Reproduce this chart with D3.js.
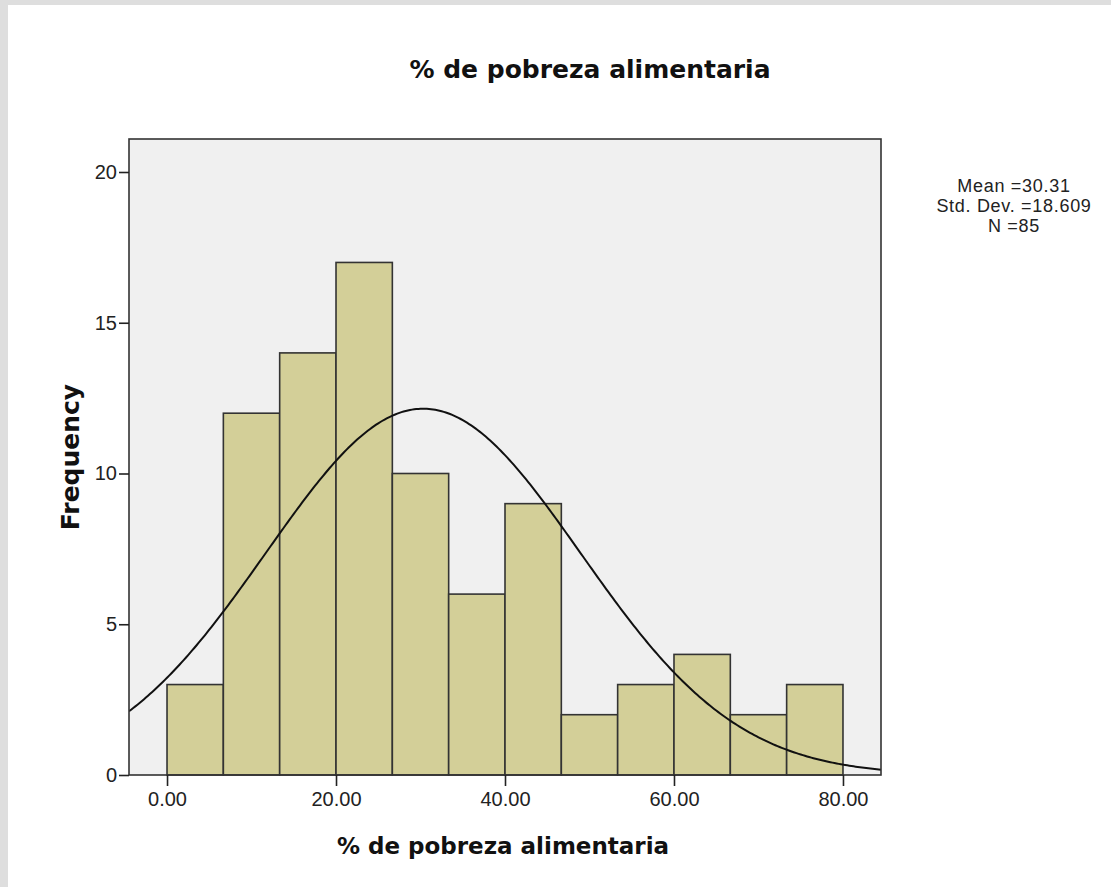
<!DOCTYPE html>
<html><head><meta charset="utf-8">
<script src="https://cdn.jsdelivr.net/npm/d3@7"></script>
<style>body{margin:0;background:#fff}svg{display:block}</style>
</head><body>
<script>
const binEdges = [0, 6.667, 13.333, 20, 26.667, 33.333, 40, 46.667, 53.333, 60, 66.667, 73.333, 80];
const counts = [3, 12, 14, 17, 10, 6, 9, 2, 3, 4, 2, 3];
const xTicks = [0, 20, 40, 60, 80];
const yTicks = [0, 5, 10, 15, 20];
const statsLabels = ["Mean =30.31", "Std. Dev. =18.609", "N =85"];
const mean = 30.31, sd = 18.609, n = 85;
const titleText = "% de pobreza alimentaria";
const xTitle = "% de pobreza alimentaria";
const yTitle = "Frequency";

const W = 1111, H = 887;
const svg = d3.select("body").append("svg").attr("width", W).attr("height", H);
svg.append("rect").attr("width", W).attr("height", H).attr("fill", "#dedede");
svg.append("rect").attr("x", 8).attr("y", 5).attr("width", W - 8).attr("height", H - 5).attr("fill", "#fff");

const L = 129, R = 881, T = 139, B = 775;
const x = d3.scaleLinear().domain([-4.5, 84.5]).range([L, R]);
const y = d3.scaleLinear().domain([0, 20]).range([B, 172]);

svg.append("rect").attr("x", L).attr("y", T).attr("width", R - L).attr("height", B - T)
  .attr("fill", "#f0f0f0");

const bins = counts.map((c, i) => ({x0: binEdges[i], x1: binEdges[i + 1], c}));
svg.append("g").selectAll("rect").data(bins).join("rect")
  .attr("x", d => x(d.x0)).attr("y", d => y(d.c))
  .attr("width", d => x(d.x1) - x(d.x0)).attr("height", d => y(0) - y(d.c))
  .attr("fill", "#d3cf98").attr("stroke", "#333").attr("stroke-width", 1.6);

// normal curve from displayed stats
const bw = binEdges[1] - binEdges[0];
const curve = d3.range(-4.5, 84.51, 0.25).map(v => [v, n * bw * Math.exp(-0.5 * ((v - mean) / sd) ** 2) / (sd * Math.sqrt(2 * Math.PI))]);
svg.append("clipPath").attr("id", "clip").append("rect").attr("x", L).attr("y", T).attr("width", R - L).attr("height", B - T);
svg.append("path").datum(curve).attr("clip-path", "url(#clip)")
  .attr("d", d3.line().x(d => x(d[0])).y(d => y(d[1])))
  .attr("fill", "none").attr("stroke", "#111").attr("stroke-width", 2);

svg.append("rect").attr("x", L).attr("y", T).attr("width", R - L).attr("height", B - T)
  .attr("fill", "none").attr("stroke", "#333").attr("stroke-width", 1.6);

const fontTick = "'Liberation Sans', Arial, sans-serif";
const yAxis = svg.append("g").attr("transform", `translate(${L},0)`)
  .call(d3.axisLeft(y).tickValues(yTicks).tickSize(10).tickPadding(2).tickFormat(d3.format("d")));
const xAxis = svg.append("g").attr("transform", `translate(0,${B})`)
  .call(d3.axisBottom(x).tickValues(xTicks).tickSize(11).tickPadding(6).tickFormat(d3.format(".2f")));
[yAxis, xAxis].forEach(a => {
  a.select(".domain").remove();
  a.selectAll("line").attr("stroke", "#222").attr("stroke-width", 1.6);
  a.selectAll("text").attr("font-family", fontTick).attr("font-size", 20).attr("fill", "#222");
});

const fontBold = "'DejaVu Sans', Verdana, sans-serif";
svg.append("text").attr("x", 590).attr("y", 78).attr("text-anchor", "middle")
  .attr("font-family", fontBold).attr("font-weight", "bold").attr("font-size", 25).attr("fill", "#111").text(titleText);
svg.append("text").attr("x", 503).attr("y", 854).attr("text-anchor", "middle")
  .attr("font-family", fontBold).attr("font-weight", "bold").attr("font-size", 23).attr("fill", "#111").text(xTitle);
svg.append("text").attr("transform", "translate(79,457) rotate(-90)").attr("text-anchor", "middle")
  .attr("font-family", fontBold).attr("font-weight", "bold").attr("font-size", 25).attr("fill", "#111").text(yTitle);

svg.append("g").selectAll("text").data(statsLabels).join("text")
  .attr("x", 1014).attr("y", (d, i) => 192 + i * 20).attr("text-anchor", "middle")
  .attr("font-family", fontTick).attr("font-size", 18).attr("letter-spacing", 0.7).attr("fill", "#222").text(d => d);
</script>
</body></html>
